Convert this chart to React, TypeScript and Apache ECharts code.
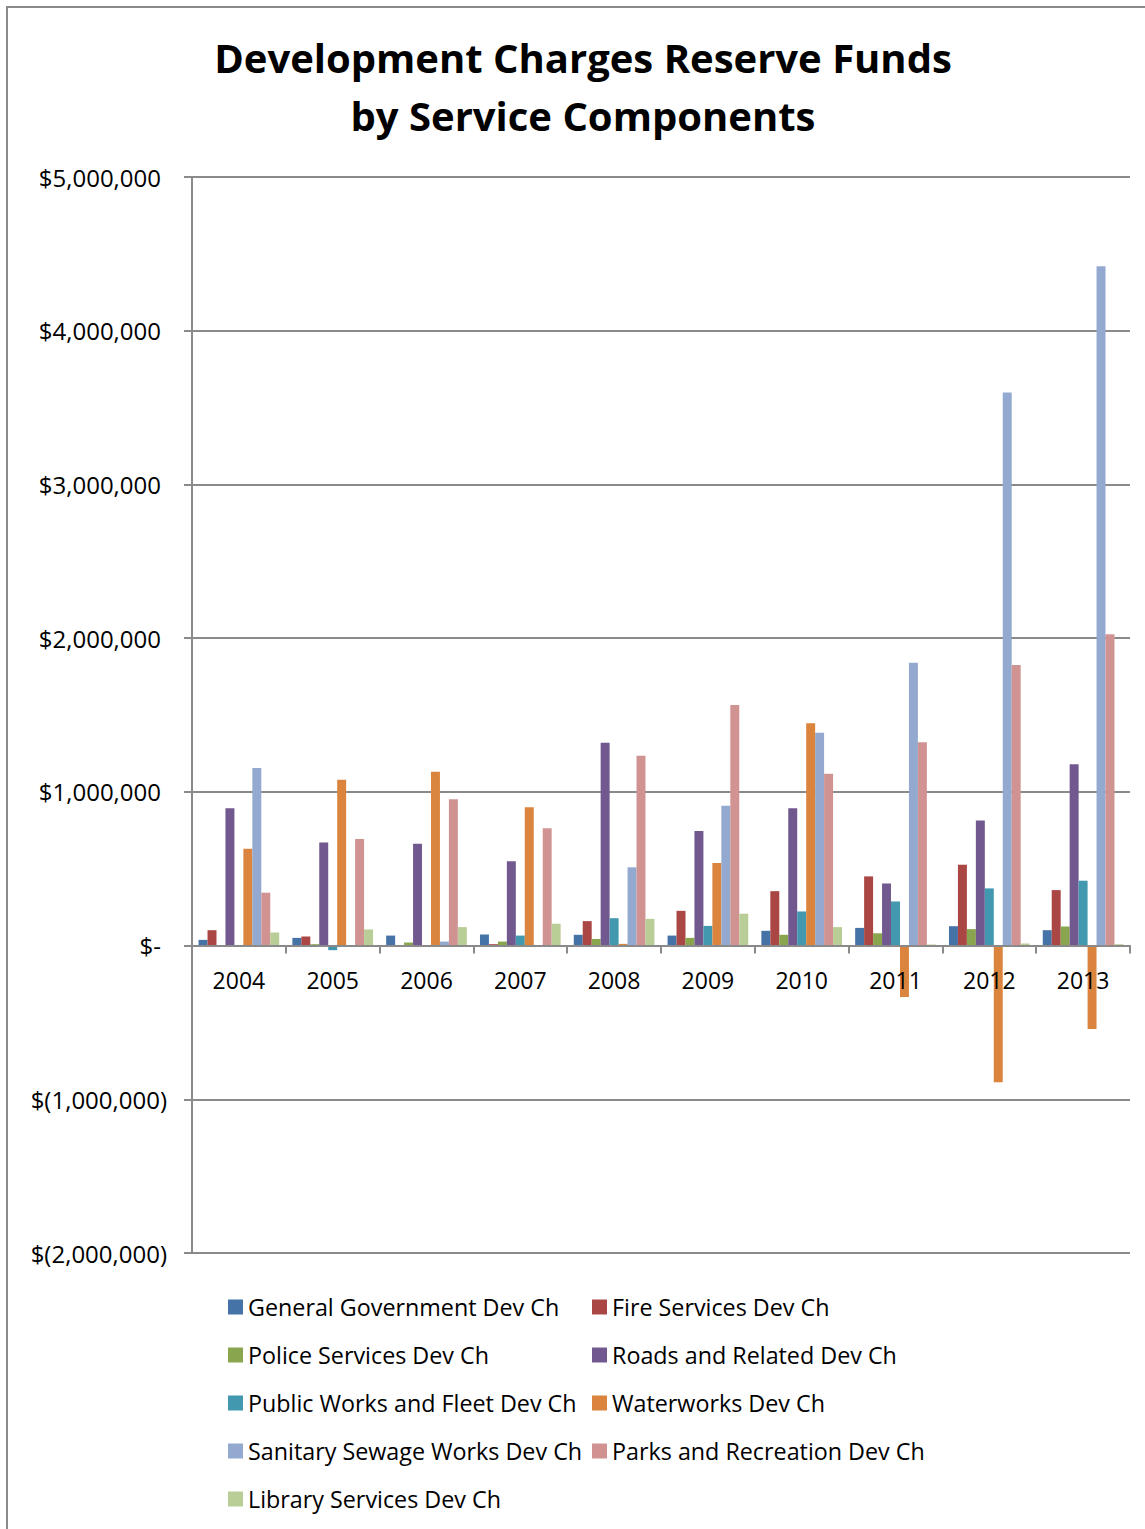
import React, { useEffect, useRef } from "react";
import * as echarts from "echarts";

// Fiscal years on the category axis
const years = ["2004", "2005", "2006", "2007", "2008", "2009", "2010", "2011", "2012", "2013"];

// Reserve fund balances per service component (dollars)
const generalGovernment = [37000, 50000, 65000, 72000, 70000, 65000, 96000, 115000, 126000, 100000];
const fireServices = [100000, 59000, 0, 9000, 159000, 226000, 354000, 450000, 526000, 361000];
const policeServices = [0, 9000, 20000, 26000, 43000, 50000, 70000, 80000, 107000, 124000];
const roadsRelated = [893000, 671000, 662000, 549000, 1320000, 746000, 893000, 404000, 814000, 1179000];
const publicWorksFleet = [4000, -30000, 0, 65000, 178000, 128000, 222000, 287000, 372000, 422000];
const waterworks = [630000, 1078000, 1131000, 900000, 11000, 537000, 1446000, -335000, -889000, -543000];
const sanitarySewage = [1155000, 0, 26000, 0, 509000, 909000, 1385000, 1840000, 3598000, 4419000];
const parksRecreation = [344000, 693000, 952000, 763000, 1235000, 1565000, 1117000, 1322000, 1825000, 2025000];
const libraryServices = [85000, 105000, 120000, 142000, 174000, 207000, 120000, 7000, 13000, 9000];

const seriesNames = [
  "General Government Dev Ch",
  "Fire Services Dev Ch",
  "Police Services Dev Ch",
  "Roads and Related Dev Ch",
  "Public Works and Fleet Dev Ch",
  "Waterworks Dev Ch",
  "Sanitary Sewage Works Dev Ch",
  "Parks and Recreation Dev Ch",
  "Library Services Dev Ch",
];
const seriesValues = [
  generalGovernment,
  fireServices,
  policeServices,
  roadsRelated,
  publicWorksFleet,
  waterworks,
  sanitarySewage,
  parksRecreation,
  libraryServices,
];
const seriesColors = [
  "#4572A7",
  "#AA4643",
  "#89A54E",
  "#71588F",
  "#4198AF",
  "#DB843D",
  "#93A9CF",
  "#D19392",
  "#B9CD96",
];

const leftLegend = [seriesNames[0], seriesNames[2], seriesNames[4], seriesNames[6], seriesNames[8]];
const rightLegend = [seriesNames[1], seriesNames[3], seriesNames[5], seriesNames[7]];

const yMin = -2000000;
const yMax = 5000000;
const yStep = 1000000;

const FONT = '"Open Sans", "Noto Sans", sans-serif';
const GRAY = "#8a8a8a";

const GRID_TOP = 177;
const GRID_BOTTOM = 276;
const CHART_H = 1529;

function accounting(v: number): string {
  if (v === 0) return "{p|$-}";
  const s = Math.abs(v).toLocaleString("en-US");
  return v < 0 ? `{n|$(${s})}` : `{p|$${s}}`;
}

export default function App() {
  const ref = useRef<HTMLDivElement>(null);

  useEffect(() => {
    if (!ref.current) return;
    const chart = echarts.init(ref.current, undefined, { renderer: "svg" });

    // The category axis sits on the zero line, with its labels just below it
    const plotH = CHART_H - GRID_TOP - GRID_BOTTOM;
    const zeroLift = (plotH * (0 - yMin)) / (yMax - yMin);

    const legendBase = {
      orient: "vertical" as const,
      top: 1295,
      padding: 0,
      itemWidth: 15,
      itemHeight: 15,
      itemGap: 24,
      icon: "rect",
      selectedMode: false,
      textStyle: { fontFamily: FONT, fontSize: 23.3, color: "#000", lineHeight: 24 },
    };

    chart.setOption({
      animation: false,
      backgroundColor: "#fff",
      graphic: [
        {
          type: "rect",
          z: -10,
          shape: { x: 7, y: 7, width: 1152, height: 1600 },
          style: { fill: "none", stroke: GRAY, lineWidth: 2 },
        },
        {
          type: "text",
          x: 583,
          y: 86.5,
          style: {
            text: "Development Charges Reserve Funds\nby Service Components",
            fontFamily: FONT,
            fontWeight: "bold",
            fontSize: 40,
            lineHeight: 58.5,
            fill: "#000",
            align: "center",
            verticalAlign: "middle",
          },
        },
      ],
      legend: [
        { ...legendBase, left: 228, data: leftLegend },
        { ...legendBase, left: 592, data: rightLegend },
      ],
      grid: { left: 192, right: 15, top: GRID_TOP, bottom: GRID_BOTTOM },
      xAxis: {
        type: "category",
        data: years,
        z: 5,
        offset: -zeroLift,
        axisLine: { onZero: false, lineStyle: { color: GRAY, width: 2 } },
        axisTick: { show: true, length: 8, inside: false, lineStyle: { color: GRAY, width: 2 } },
        axisLabel: { fontFamily: FONT, fontSize: 23, color: "#000", margin: 23 },
        splitLine: { show: false },
      },
      yAxis: {
        type: "value",
        min: yMin,
        max: yMax,
        interval: yStep,
        axisLine: { show: true, lineStyle: { color: GRAY, width: 2 } },
        axisTick: { show: true, length: 8, lineStyle: { color: GRAY, width: 2 } },
        splitLine: { show: true, lineStyle: { color: GRAY, width: 2 } },
        axisLabel: {
          margin: 25,
          formatter: (v: number) => accounting(v),
          rich: {
            p: { fontFamily: FONT, fontSize: 24, color: "#000", padding: [0, 6, 0, 0] },
            n: { fontFamily: FONT, fontSize: 24, color: "#000" },
          },
        },
      },
      series: seriesNames.map((name, i) => ({
        name,
        type: "bar",
        data: seriesValues[i],
        barGap: "0%",
        barCategoryGap: "14%",
        itemStyle: { color: seriesColors[i] },
      })),
    });

    return () => chart.dispose();
  }, []);

  return (
    <div
      ref={ref}
      style={{ position: "absolute", left: 0, top: 0, width: 1145, height: 1529 }}
    />
  );
}
